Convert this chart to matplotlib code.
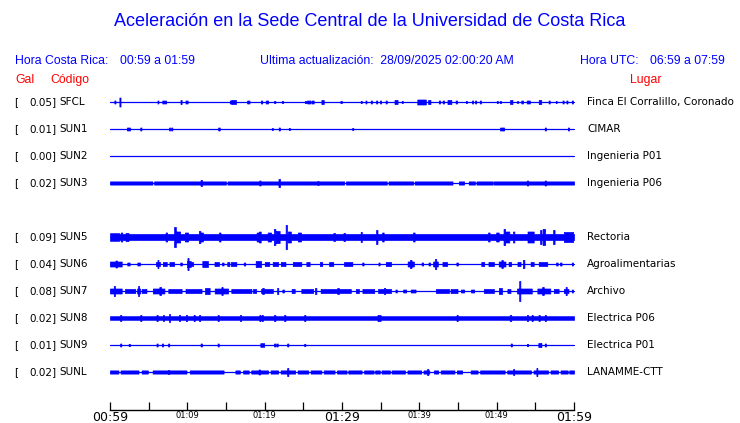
#!/usr/bin/env python3
"""Acceleration traces, UCR Sede Central (one hour window)."""

import matplotlib
matplotlib.use("Agg")
import matplotlib.pyplot as plt
import matplotlib.transforms as mtransforms
import numpy as np

BLUE = "#0000ff"
RED = "#ff0000"

TITLE = "Aceleración en la Sede Central de la Universidad de Costa Rica"
TIME_CR = "00:59 a 01:59"
TIME_UTC = "06:59 a 07:59"
UPDATED = "Ultima actualización:  28/09/2025 02:00:20 AM"

# station rows (row 4 is left empty in the original layout)
ROWS = [0, 1, 2, 3, 5, 6, 7, 8, 9, 10]
CODES = ["SFCL", "SUN1", "SUN2", "SUN3", "SUN5", "SUN6", "SUN7", "SUN8", "SUN9", "SUNL"]
GALS = ["0.05", "0.01", "0.00", "0.02", "0.09", "0.04", "0.08", "0.02", "0.01", "0.02"]
PLACES = ["Finca El Corralillo, Coronado", "CIMAR", "Ingenieria P01", "Ingenieria P06",
          "Rectoria", "Agroalimentarias", "Archivo", "Electrica P06", "Electrica P01",
          "LANAMME-CTT"]

# background band half-height (px) for each trace
BASE = [0, 0, 0, 1.6, 3.0, 0, 0, 1.8, 0, 1.6]

# quiet stretches where the band drops to the bare line: (start_min, end_min)
GAPS_SUN3 = [(5.5, 5.7), (15.0, 15.2), (30.3, 30.5), (35.8, 36.0), (39.2, 39.4),
             (44.3, 45.1), (45.8, 46.4), (47.2, 47.4), (49.5, 49.6)]
GAPS_SUNL = [(1.1, 1.35), (3.7, 4.1), (4.9, 5.5), (9.9, 10.3), (14.7, 16.2), (16.8, 17.2),
             (17.95, 18.25), (20.45, 20.75), (21.75, 22.05), (23.95, 24.25), (25.65, 25.95),
             (27.35, 27.65), (29.05, 29.35), (30.6, 30.8), (32.55, 32.85), (34.1, 34.3),
             (34.9, 35.1), (36.2, 36.4), (38.15, 38.45), (40.25, 40.55), (41.3, 41.9),
             (42.45, 42.75), (44.55, 44.85), (45.55, 46.65), (47.55, 47.85), (51.05, 51.35),
             (54.45, 54.75), (56.65, 56.95), (57.95, 58.25), (59.2, 59.4)]

# bursts: (minute, half-height px, duration min)
EV_SFCL = [(0.65, 1.5, 0.15), (1.29, 4.5, 0.15), (6.2, 1.5, 0.15), (6.9, 1.5, 0.3),
           (7.2, 1.5, 0.15), (9.2, 2, 0.15), (9.9, 1.5, 0.3), (15.6, 1.5, 0.2),
           (16.0, 2, 0.6), (17.9, 1.5, 0.3), (19.6, 1.5, 0.15), (20.3, 1.5, 0.3),
           (21.3, 1, 0.15), (22.3, 1, 0.15), (25.3, 1, 0.2), (25.7, 1.5, 0.4),
           (26.2, 1.5, 0.3), (27.5, 2, 0.3), (29.9, 1, 0.2), (32.5, 1, 0.15),
           (33.1, 1.5, 0.15), (33.8, 1.5, 0.15), (34.5, 1.5, 0.15), (35.0, 1.5, 0.15),
           (35.7, 1.5, 0.15), (37.0, 2, 0.4), (37.8, 1, 0.15), (40.3, 2.5, 1.1),
           (41.3, 2, 0.3), (42.6, 1.5, 0.2), (43.1, 1.5, 0.2), (43.9, 2, 0.5),
           (44.8, 1.5, 0.2), (46.1, 1, 0.15), (46.9, 1.5, 0.15), (47.3, 1.5, 0.15),
           (47.9, 1.5, 0.15), (50.1, 1, 0.15), (50.5, 1, 0.15), (51.9, 2, 0.3),
           (52.7, 1, 0.15), (53.3, 1.5, 0.2), (54.1, 1.5, 0.4), (55.6, 2, 0.3),
           (56.8, 1.5, 0.15), (57.7, 1, 0.15), (58.6, 1.5, 0.15), (59.1, 1.5, 0.15),
           (59.8, 1.5, 0.15)]
EV_SUN1 = [(2.4, 1.5, 0.4), (4.0, 1.5, 0.15), (7.7, 1.5, 0.15), (8.0, 1.5, 0.15),
           (14.1, 1.5, 0.2), (21.0, 1, 0.15), (21.9, 1.5, 0.15), (23.2, 1, 0.15),
           (31.4, 1, 0.15), (50.6, 1.5, 0.3), (50.9, 1.5, 0.15), (56.3, 1.5, 0.15),
           (59.3, 1.5, 0.15)]
EV_SUN2 = []
EV_SUN3 = [(11.8, 3, 0.15), (19.4, 2.5, 0.15), (21.9, 4, 0.2), (26.9, 2, 0.15),
           (54.0, 2.5, 0.15), (56.3, 2.5, 0.15)]
EV_SUN5 = [(0.6, 3.8, 1.2), (1.5, 4.5, 0.2), (2.2, 4, 0.4), (7.3, 4.5, 0.2), (8.4, 10, 0.2),
           (8.8, 5.5, 0.5), (9.9, 4.5, 0.4), (11.6, 6, 0.2), (11.8, 4.5, 0.4), (14.2, 4.5, 0.2),
           (19.1, 4.5, 0.3), (19.4, 5.5, 0.2), (20.6, 4.5, 0.4), (21.3, 8, 0.2), (21.7, 6, 0.5),
           (22.8, 12, 0.15), (23.2, 5.5, 0.4), (24.5, 4.5, 0.4), (29.0, 4, 0.2),
           (30.3, 4, 0.2), (32.5, 5, 0.15), (34.5, 7, 0.2), (35.3, 4.5, 0.2), (39.3, 4.5, 0.2),
           (49.0, 4.5, 0.2), (50.1, 4.5, 0.3), (51.0, 8, 0.2), (51.4, 5.5, 0.5), (52.2, 5.5, 0.2),
           (54.4, 5.5, 0.8), (55.7, 7, 0.2), (56.1, 8, 0.3), (57.4, 7, 0.2), (59.3, 5, 1.2)]
EV_SUN6 = [(0.75, 2.5, 1.5), (0.8, 3.5, 0.15), (2.4, 1.5, 0.3), (3.7, 1.5, 0.3),
           (6.2, 4, 0.15), (6.2, 2, 0.5), (7.1, 2, 0.5), (8.0, 2, 0.6), (9.2, 1.5, 0.2),
           (10.1, 6, 0.15), (10.2, 3, 0.5), (10.6, 2, 0.3), (12.3, 3, 0.7), (13.8, 2, 0.6),
           (14.6, 1.5, 0.2), (15.3, 2, 0.3), (16.0, 2, 0.7), (17.4, 1.5, 0.2),
           (19.2, 3, 0.7), (20.3, 2, 0.6), (21.4, 2, 0.7), (22.4, 2, 0.6), (24.2, 2, 1.1),
           (25.6, 2, 0.4), (27.3, 2, 0.3), (28.6, 2, 0.5), (30.8, 2, 1.1), (32.7, 1.5, 0.2),
           (34.8, 1.5, 0.15), (36.0, 2, 0.7), (38.9, 4, 0.2), (38.9, 2.5, 0.8),
           (40.4, 1.5, 0.2), (41.3, 1.5, 0.2), (42.1, 5, 0.2), (42.1, 2.5, 0.6),
           (43.3, 2, 0.6), (44.9, 1.5, 0.2), (48.2, 2, 0.4), (49.3, 2, 0.7),
           (50.7, 4, 0.2), (50.7, 2.5, 0.9), (51.7, 2, 0.3), (52.9, 2, 0.4),
           (53.5, 4, 0.2), (54.6, 2, 0.4), (56.0, 2, 1.1), (57.8, 1.5, 0.2),
           (58.3, 1.5, 0.2), (59.8, 1.5, 0.15)]
EV_SUN7 = [(0.75, 2.5, 1.5), (0.56, 5, 0.15), (2.6, 2, 1.3), (3.7, 5, 0.15),
           (3.7, 2.5, 0.4), (4.4, 2, 0.6), (6.3, 2.5, 1.5), (6.5, 4, 0.2), (8.4, 2, 1.7),
           (10.8, 2, 2.1), (12.6, 3, 0.6), (14.4, 2.5, 1.7), (14.5, 4, 0.15),
           (17.0, 2, 2.6), (18.7, 2, 0.4), (20.3, 2, 1.5), (19.8, 3, 0.2), (21.7, 3, 0.15),
           (22.4, 1.5, 0.2), (23.7, 2, 0.4), (25.5, 2, 1.5), (26.6, 3, 0.2),
           (29.2, 2, 3.9), (29.5, 3, 0.2), (32.0, 2, 0.4), (33.4, 2, 1.5), (35.5, 2, 1.7),
           (35.5, 3, 0.2), (37.0, 1.5, 0.2), (38.1, 1.5, 0.4), (39.2, 1.5, 0.6),
           (43.0, 2, 1.7), (44.5, 2, 0.9), (45.6, 1.5, 0.4), (46.9, 1.5, 0.4),
           (49.0, 2, 1.3), (50.5, 3, 0.4), (51.6, 2, 0.4), (53.0, 10, 0.15),
           (53.6, 2.5, 1.9), (56.1, 2.5, 1.7), (56.0, 4, 0.2), (57.7, 2, 0.6),
           (59.0, 2, 0.6), (59.0, 4, 0.15), (59.8, 1.5, 0.15)]
EV_SUN8 = [(1.4, 3, 0.15), (4.0, 3, 0.15), (6.1, 3, 0.15), (6.9, 3, 0.15), (7.7, 4, 0.15),
           (9.0, 3, 0.15), (9.9, 3, 0.15), (10.9, 3, 0.15), (11.6, 3, 0.15),
           (14.0, 3, 0.15), (16.9, 3, 0.15), (19.4, 3, 0.15), (19.7, 3, 0.15),
           (21.3, 3, 0.15), (22.6, 3, 0.15), (25.2, 3, 0.15), (34.8, 3, 0.4),
           (44.9, 3, 0.15), (51.8, 3, 0.2), (54.0, 3, 0.15), (54.6, 3, 0.15),
           (55.5, 3, 0.15), (56.3, 3, 0.15)]
EV_SUN9 = [(1.4, 1.5, 0.15), (2.5, 1.2, 0.15), (6.1, 1.5, 0.15), (6.8, 1.5, 0.15),
           (7.6, 1.5, 0.15), (11.8, 1.5, 0.15), (14.0, 1.5, 0.15), (19.7, 1.8, 0.5),
           (21.3, 1.5, 0.15), (21.6, 1.5, 0.15), (23.0, 1.5, 0.15), (25.2, 1.2, 0.15),
           (51.9, 1.5, 0.15), (54.0, 1.2, 0.15), (55.6, 2, 0.4), (56.3, 1.5, 0.15)]
EV_SUNL = [(7.6, 2, 0.15), (19.3, 2.5, 0.15), (23.0, 4, 0.15), (41.1, 3, 0.15),
           (52.2, 3, 0.15), (55.2, 4, 0.15)]

EVENTS = [EV_SFCL, EV_SUN1, EV_SUN2, EV_SUN3, EV_SUN5, EV_SUN6, EV_SUN7, EV_SUN8,
          EV_SUN9, EV_SUNL]
GAPS = [[], [], [], GAPS_SUN3, [], [], [], [], [], GAPS_SUNL]

MAJOR_LABELS = ["00:59", "", "01:09", "", "01:19", "", "01:29", "", "01:39", "", "01:49",
                "", "01:59"]


def envelope(t, base, gaps, events):
    env = np.full_like(t, float(base))
    for a, b in gaps:
        env[(t >= a) & (t <= b)] = 0.0
    for tc, h, w in events:
        sel = np.abs(t - tc) <= w / 2
        env[sel] = np.maximum(env[sel], h)
    return env


def main():
    W, H = 740, 423
    fig = plt.figure(figsize=(W / 100, H / 100), dpi=100)

    def fx(px):
        return px / W

    def fy(py):
        return 1 - py / H

    # axes: x in minutes, y in screen pixels from the top (time axis at 410 px)
    ax = fig.add_axes([fx(110), fy(410), (574 - 110) / W, (410 - 88) / H])
    ax.set_xlim(0, 60)
    ax.set_ylim(410, 88)
    for side in ("left", "right", "top"):
        ax.spines[side].set_visible(False)
    ax.spines["bottom"].set_linewidth(1.0)
    ax.set_yticks([])

    row_top, row_step = 102, 27
    t = np.linspace(0, 60, 2401)
    for i, row in enumerate(ROWS):
        yc = row_top + row_step * row
        env = envelope(t, BASE[i], GAPS[i], EVENTS[i])
        ax.plot([0, 60], [yc, yc], color=BLUE, lw=0.9, solid_capstyle="butt")
        ax.fill_between(t, yc - env, yc + env, facecolor=BLUE, edgecolor=BLUE,
                        lw=0.5, step="mid")

    ax.set_xticks(np.arange(0, 61, 5))
    ax.set_xticklabels(MAJOR_LABELS)
    ax.tick_params(axis="x", direction="in", length=6, width=0.9, pad=1, color="black")
    for k, lab in enumerate(ax.get_xticklabels()):
        big = k in (0, 6, 12)
        lab.set_fontsize(9 if big else 6)
        lab.set_fontfamily("DejaVu Sans")

    # station labels on both sides
    tr = mtransforms.blended_transform_factory(fig.transFigure, ax.transData)
    for i, row in enumerate(ROWS):
        yc = row_top + row_step * row
        kw = dict(transform=tr, va="center", fontsize=7.5, family="DejaVu Sans")
        ax.text(fx(14), yc, "[", ha="left", **kw)
        ax.text(fx(56), yc, GALS[i] + "]", ha="right", **kw)
        ax.text(fx(59), yc, CODES[i], ha="left", **kw)
        ax.text(fx(587), yc, PLACES[i], ha="left", **kw)

    # header
    hdr = dict(family="Liberation Sans", va="center")
    fig.text(0.5, fy(21), TITLE, ha="center", color=BLUE, fontsize=13, **hdr)
    fig.text(fx(15), fy(61), "Hora Costa Rica:", ha="left", color=BLUE, fontsize=8.8, **hdr)
    fig.text(fx(120), fy(61), TIME_CR, ha="left", color=BLUE, fontsize=8.8, **hdr)
    fig.text(fx(260), fy(61), UPDATED, ha="left", color=BLUE, fontsize=8.8, **hdr)
    fig.text(fx(580), fy(61), "Hora UTC:", ha="left", color=BLUE, fontsize=8.8, **hdr)
    fig.text(fx(650), fy(61), TIME_UTC, ha="left", color=BLUE, fontsize=8.8, **hdr)
    fig.text(fx(15), fy(80), "Gal", ha="left", color=RED, fontsize=8.8, **hdr)
    fig.text(fx(50), fy(80), "Código", ha="left", color=RED, fontsize=8.8, **hdr)
    fig.text(fx(646), fy(80), "Lugar", ha="center", color=RED, fontsize=8.8, **hdr)

    fig.savefig("out.png", dpi=100)
    plt.close(fig)


if __name__ == "__main__":
    main()
